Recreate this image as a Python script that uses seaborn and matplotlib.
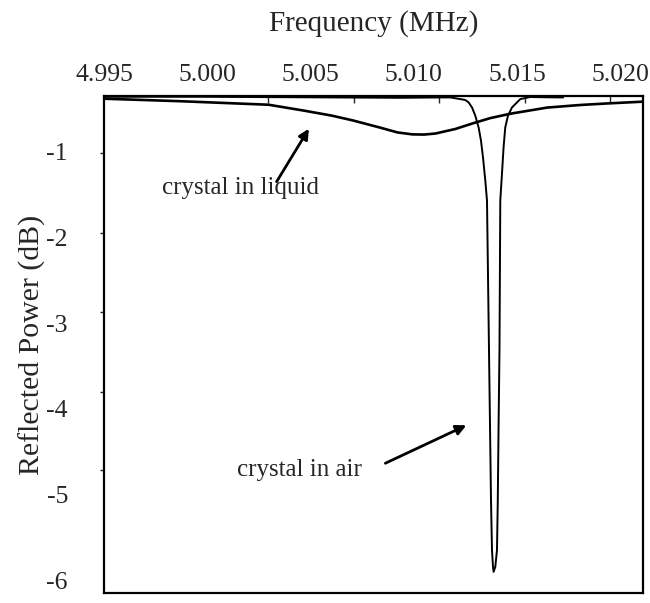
import matplotlib
matplotlib.use("Agg")
import matplotlib.pyplot as plt
from matplotlib.ticker import FixedLocator, FormatStrFormatter
import numpy as np
import pandas as pd
import seaborn as sns

# Reflected power of the quartz crystal resonance, measured in air
freq_air = [4.995024, 4.999671, 5.004511, 5.009351, 5.011287, 5.011771, 5.012255,
            5.012497, 5.012657, 5.012822, 5.012981, 5.013141, 5.013257, 5.013354,
            5.013466, 5.013548, 5.013645, 5.013742, 5.013790, 5.013839, 5.013867,
            5.013950, 5.014032, 5.014071, 5.014109, 5.014153, 5.014192, 5.014274,
            5.014351, 5.014433, 5.014564, 5.014758, 5.015160, 5.015644, 5.016370,
            5.017241]
power_air = [-0.359, -0.359, -0.365, -0.371, -0.367, -0.367, -0.386,
             -0.397, -0.425, -0.484, -0.580, -0.717, -0.872, -1.066,
             -1.338, -1.571, -3.319, -5.068, -5.650, -5.845, -5.903,
             -5.845, -5.650, -5.068, -4.200, -3.319, -1.571, -1.256,
             -0.950, -0.717, -0.580, -0.484, -0.386, -0.362, -0.365,
             -0.367]

# Same crystal immersed in liquid: broad, shallow resonance
freq_liquid = [4.995024, 4.998703, 5.002962, 5.004705, 5.006000, 5.007027, 5.008383,
               5.009206, 5.009932, 5.010500, 5.011046, 5.012013, 5.012836, 5.013708,
               5.014676, 5.016467, 5.018064, 5.019371, 5.021113]
power_liquid = [-0.382, -0.411, -0.452, -0.522, -0.578, -0.634, -0.720,
                -0.775, -0.798, -0.800, -0.788, -0.735, -0.671, -0.608,
                -0.557, -0.485, -0.455, -0.437, -0.416]

freq_ticks = [4.995, 5.000, 5.005, 5.010, 5.015, 5.020]
power_ticks = [-1, -2, -3, -4, -5, -6]

df_air = pd.DataFrame({"freq": freq_air, "power": power_air})
df_liq = pd.DataFrame({"freq": freq_liquid, "power": power_liquid})

sns.set_style("white")
plt.rcParams["font.family"] = ["Liberation Serif", "DejaVu Serif"]
plt.rcParams["font.size"] = 18

fig = plt.figure(figsize=(6.5, 6.03), dpi=100)
ax = fig.add_axes([0.16, 0.0166, 0.8292, 0.8242])

sns.lineplot(data=df_air, x="freq", y="power", ax=ax, color="black",
             linewidth=1.4, sort=False)
sns.lineplot(data=df_liq, x="freq", y="power", ax=ax, color="black",
             linewidth=1.9, sort=False)

ax.set_xlim(4.99498, 5.02111)
ax.set_ylim(-6.15, -0.35)

# frequency axis runs along the top
ax.xaxis.tick_top()
ax.xaxis.set_label_position("top")
ax.xaxis.set_major_locator(FixedLocator(freq_ticks))
ax.xaxis.set_major_formatter(FormatStrFormatter("%.3f"))
ax.xaxis.set_minor_locator(FixedLocator([5.00295, 5.0071, 5.0112, 5.0154, 5.0195]))
ax.tick_params(axis="x", which="major", length=0, pad=7, labelsize=18.5)
ax.tick_params(axis="x", which="minor", direction="in", length=5, width=1,
               top=True, bottom=False)
ax.set_xlabel("Frequency (MHz)", fontsize=21, labelpad=24)

ax.yaxis.set_major_locator(FixedLocator(power_ticks))
ax.yaxis.set_major_formatter(FormatStrFormatter("%d"))
ax.yaxis.set_minor_locator(FixedLocator([-1.017, -1.944, -2.865, -3.80, -4.72]))
ax.tick_params(axis="y", which="major", length=0, pad=26, labelsize=18.5)
ax.tick_params(axis="y", which="minor", direction="out", length=3, width=1,
               left=True)
ax.set_ylabel("Reflected Power (dB)", fontsize=21.5, labelpad=0)

for s in ax.spines.values():
    s.set_color("black")
    s.set_linewidth(1.6)

arrow = dict(arrowstyle="-|>", color="black", lw=2, mutation_scale=15,
             shrinkA=0, shrinkB=0)
ax.annotate("", xy=(5.004913, -0.732), xytext=(5.003349, -1.350),
            arrowprops=arrow)
ax.text(5.001617, -1.42, "crystal in liquid", ha="center", va="center", fontsize=18)
ax.annotate("", xy=(5.012546, -4.193), xytext=(5.008620, -4.636),
            arrowprops=arrow)
ax.text(5.004463, -4.718, "crystal in air", ha="center", va="center", fontsize=18)

fig.savefig("out.png", dpi=100)
